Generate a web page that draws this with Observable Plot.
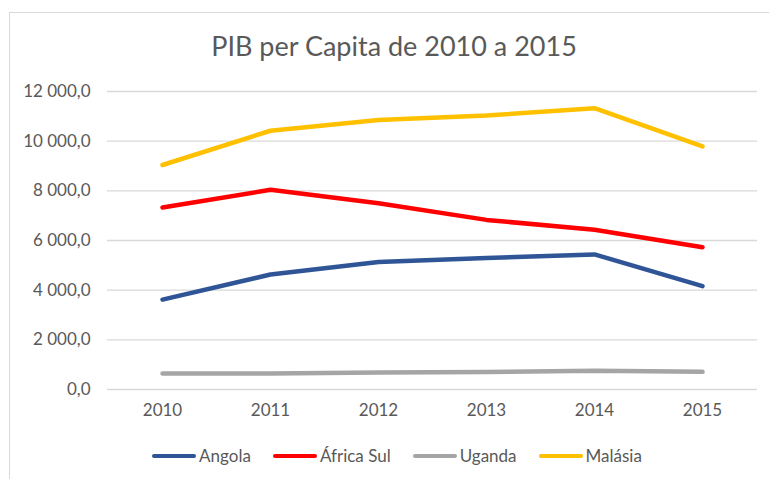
<!DOCTYPE html>
<html>
<head>
<meta charset="utf-8">
<script src="https://cdn.jsdelivr.net/npm/d3@7"></script>
<script src="https://cdn.jsdelivr.net/npm/@observablehq/plot@0.6"></script>
<style>
  html, body { margin: 0; padding: 0; background: #fff; }
  body { width: 769px; height: 479px; overflow: hidden; position: relative; font-family: Lato, "Noto Sans", sans-serif; color: #595959; }
  #frame { position: absolute; left: 9px; top: 12px; width: 800px; height: 520px; border-left: 1px solid #d9d9d9; border-top: 1px solid #d9d9d9; }
  #title { position: absolute; left: 0; width: 788px; top: 29px; text-align: center; font-size: 27px; line-height: 34px; white-space: nowrap; }
  #chart { position: absolute; left: 0; top: 0; }
  #legend { position: absolute; left: 0; width: 794px; top: 444px; display: flex; justify-content: center; gap: 22px; font-size: 17px; line-height: 24px; }
  .item { display: flex; align-items: center; }
  .sw { width: 44px; height: 4.5px; border-radius: 2.25px; margin-right: 3px; }
</style>
</head>
<body>
<div id="frame"></div>
<div id="title">PIB per Capita de 2010 a 2015</div>
<div id="chart"></div>
<div id="legend"></div>
<script>
const years = ["2010", "2011", "2012", "2013", "2014", "2015"];
const seriesNames = ["Angola", "África Sul", "Uganda", "Malásia"];
const seriesColors = ["#2F5597", "#FF0000", "#A5A5A5", "#FFC000"];
const angola = [3620, 4630, 5130, 5300, 5440, 4160];
const africaSul = [7330, 8040, 7500, 6830, 6430, 5730];
const uganda = [640, 640, 680, 700, 760, 710];
const malasia = [9040, 10420, 10850, 11030, 11330, 9790];
const yTicks = [0, 2000, 4000, 6000, 8000, 10000, 12000];

const allSeries = [angola, africaSul, uganda, malasia];
const data = [];
allSeries.forEach((vals, s) => {
  vals.forEach((v, i) => data.push({ serie: seriesNames[s], ano: years[i], valor: v }));
});

const fmt = d3.formatLocale({ decimal: ",", thousands: "\u00a0", grouping: [3] }).format(",.1f");

const chart = Plot.plot({
  width: 769,
  height: 430,
  marginTop: 91,
  marginBottom: 41,
  marginLeft: 107,
  marginRight: 12,
  style: { fontFamily: "Lato, 'Noto Sans', sans-serif", fontSize: "17px", color: "#595959", background: "transparent" },
  x: { type: "point", domain: years, padding: 0.5, label: null },
  y: { domain: [0, 12000], label: null },
  color: { domain: seriesNames, range: seriesColors },
  marks: [
    Plot.gridY(yTicks, { stroke: "#d9d9d9", strokeOpacity: 1, strokeWidth: 1.3 }),
    Plot.axisX({ tickSize: 0, tickPadding: 14, fill: "#595959" }),
    Plot.axisY({ ticks: yTicks, tickFormat: fmt, tickSize: 0, tickPadding: 17, fill: "#595959" }),
    Plot.line(data, { x: "ano", y: "valor", z: "serie", stroke: "serie", strokeWidth: 4.5, strokeLinecap: "round", strokeLinejoin: "round" })
  ]
});
document.getElementById("chart").appendChild(chart);

const legend = document.getElementById("legend");
seriesNames.forEach((name, i) => {
  const item = document.createElement("div");
  item.className = "item";
  const sw = document.createElement("span");
  sw.className = "sw";
  sw.style.background = seriesColors[i];
  const t = document.createElement("span");
  t.textContent = name;
  item.appendChild(sw);
  item.appendChild(t);
  legend.appendChild(item);
});
</script>
</body>
</html>
